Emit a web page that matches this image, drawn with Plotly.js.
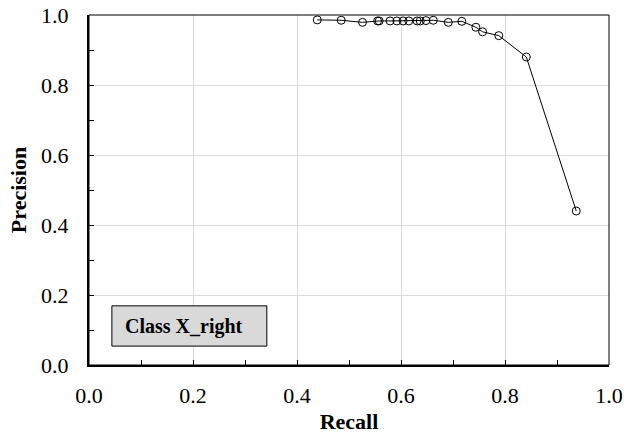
<!DOCTYPE html>
<html>
<head>
<meta charset="utf-8">
<script src="https://cdn.plot.ly/plotly-3.0.1.min.js"></script>
<style>html,body{margin:0;padding:0;background:#fff;}#chart{width:640px;height:443px;}</style>
</head>
<body>
<div id="chart"></div>
<script>
const recall = [0.439, 0.485, 0.526, 0.555, 0.558, 0.579, 0.592, 0.604, 0.615, 0.631, 0.637, 0.648, 0.662, 0.691, 0.717, 0.744, 0.757, 0.788, 0.841, 0.937];
const precision = [0.986, 0.985, 0.979, 0.983, 0.983, 0.983, 0.983, 0.983, 0.983, 0.983, 0.983, 0.984, 0.985, 0.979, 0.982, 0.965, 0.952, 0.941, 0.880, 0.440];
const tickVals = [0, 0.2, 0.4, 0.6, 0.8, 1.0];
const tickText = ["0.0", "0.2", "0.4", "0.6", "0.8", "1.0"];
const labelText = "Class X_right";

const serif = "Liberation Serif";

const trace = {
  x: recall, y: precision, type: "scatter", mode: "lines+markers",
  line: {color: "#000", width: 1},
  marker: {symbol: "circle-open", size: 8, color: "#000", line: {width: 1, color: "#000"}},
  showlegend: false, hoverinfo: "none"
};

function axis(extra) {
  return Object.assign({
    range: [0, 1], tickvals: tickVals, ticktext: tickText,
    showgrid: true, gridcolor: "#dcdcdc", gridwidth: 1,
    zeroline: false, showline: true, linecolor: "#000", linewidth: 2,
    ticks: "inside", ticklen: 5, tickwidth: 1, tickcolor: "#000",
    minor: {dtick: 0.1, ticks: "inside", ticklen: 5, tickwidth: 1, tickcolor: "#000", showgrid: false},
    tickfont: {family: serif, size: 22, color: "#000"},
    fixedrange: true
  }, extra);
}

const layout = {
  width: 640, height: 443,
  margin: {l: 89, r: 31, t: 15, b: 78},
  paper_bgcolor: "#fff", plot_bgcolor: "#fff",
  xaxis: axis({
    title: {text: "<b>Recall</b>", font: {family: serif, size: 22, color: "#000"}, standoff: 6},
    ticklabelstandoff: 10
  }),
  yaxis: axis({
    title: {text: "<b>Precision</b>", font: {family: serif, size: 22, color: "#000"}, standoff: 8},
    ticklabelstandoff: 14
  }),
  shapes: [
    {type: "rect", xref: "paper", yref: "paper", x0: 0, x1: 1, y0: 0, y1: 1, line: {color: "#000", width: 1}, layer: "above"},
    {type: "rect", xref: "paper", yref: "paper", x0: 0.044, x1: 0.342, y0: 0.054, y1: 0.169, fillcolor: "#d9d9d9", line: {color: "#000", width: 1}, layer: "above"}
  ],
  annotations: [
    {xref: "paper", yref: "paper", x: 0.066, y: 0.111, xanchor: "left", yanchor: "middle", showarrow: false,
     text: "<b>" + labelText + "</b>", font: {family: serif, size: 20, color: "#000"}}
  ]
};

Plotly.newPlot("chart", [trace], layout, {displayModeBar: false, staticPlot: true});
</script>
</body>
</html>
